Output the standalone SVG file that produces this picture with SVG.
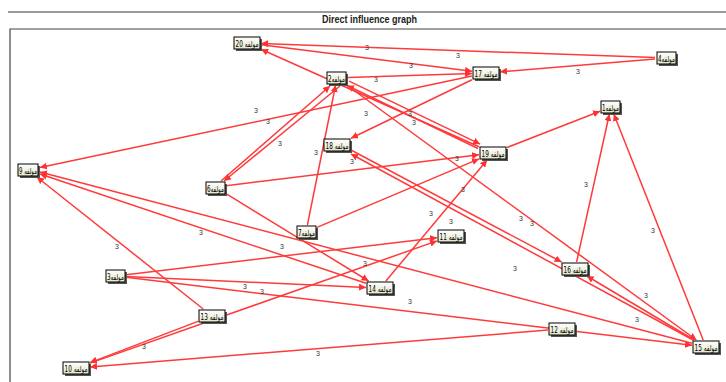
<svg xmlns="http://www.w3.org/2000/svg" width="726" height="382" viewBox="0 0 726 382">
<defs>
<marker id="ah" viewBox="0 0 10 10" refX="10" refY="5" markerWidth="7" markerHeight="7" markerUnits="userSpaceOnUse" orient="auto">
<path d="M0,0 L10,5 L0,10 z" fill="#ff3030"/>
</marker>
<linearGradient id="nf" x1="0" y1="0" x2="0" y2="1">
<stop offset="0" stop-color="#ffffff"/>
<stop offset="1" stop-color="#e4e6c8"/>
</linearGradient>
</defs>
<style>
.e{stroke:#ff3a3a;stroke-width:1.5;fill:none;marker-end:url(#ah)}
.l{font-family:"Liberation Sans","DejaVu Sans",sans-serif;font-size:7px;fill:#333;text-anchor:middle}
.nb{fill:url(#nf);stroke:#000;stroke-width:1}
.ns{fill:#555}
.nt{font-family:"DejaVu Sans","Liberation Sans",sans-serif;font-size:8.5px;fill:#000;text-anchor:middle;direction:rtl}
</style>
<rect x="0" y="0" width="726" height="382" fill="#ffffff"/>
<line x1="8" y1="12" x2="726" y2="12" stroke="#9a9a9a" stroke-width="2"/>
<text x="322" y="23" font-family="Liberation Sans, Arial, sans-serif" font-size="10" font-weight="bold" textLength="95" lengthAdjust="spacingAndGlyphs" fill="#222">Direct influence graph</text>
<path d="M10,382 L10,29 L726,29" fill="none" stroke="#444" stroke-width="1.2"/>

<g id="connectors">
<line class="e" x1="655" y1="57.6" x2="261" y2="43.5"/>
<line class="e" x1="655" y1="58.9" x2="500" y2="71.8"/>
<line class="e" x1="261" y1="44.8" x2="472" y2="71.2"/>
<line class="e" x1="479" y1="146.7" x2="261" y2="49.3"/>
<line class="e" x1="348" y1="77.6" x2="472" y2="73.5"/>
<line class="e" x1="472" y1="76" x2="40" y2="167.5"/>
<line class="e" x1="472" y1="79.8" x2="351" y2="138.2"/>
<line class="e" x1="349.1" y1="81.1" x2="480.1" y2="144.1"/>
<line class="e" x1="478" y1="148.5" x2="347" y2="85.5"/>
<line class="e" x1="340" y1="86" x2="224" y2="181"/>
<line class="e" x1="221" y1="181" x2="330" y2="86"/>
<line class="e" x1="307.4" y1="225" x2="335.6" y2="85"/>
<line class="e" x1="226" y1="185.7" x2="479" y2="154.7"/>
<line class="e" x1="317" y1="227.4" x2="479" y2="158.9"/>
<line class="e" x1="507" y1="147.5" x2="600" y2="111.3"/>
<line class="e" x1="385.9" y1="281" x2="487.1" y2="160"/>
<line class="e" x1="576.6" y1="262" x2="609.4" y2="114"/>
<line class="e" x1="703.2" y1="340" x2="613.8" y2="114"/>
<line class="e" x1="351" y1="150" x2="561.6" y2="262"/>
<line class="e" x1="693.2" y1="340" x2="351" y2="154"/>
<line class="e" x1="346.6" y1="85" x2="696.4" y2="340"/>
<line class="e" x1="203.2" y1="309" x2="36.8" y2="177"/>
<line class="e" x1="366" y1="283.3" x2="40" y2="174"/>
<line class="e" x1="692" y1="343.3" x2="40" y2="172"/>
<line class="e" x1="226" y1="193.7" x2="368.6" y2="281"/>
<line class="e" x1="126" y1="274.7" x2="437" y2="237.7"/>
<line class="e" x1="90" y1="363.1" x2="437" y2="240.9"/>
<line class="e" x1="126" y1="276.5" x2="366" y2="287.4"/>
<line class="e" x1="126" y1="277.3" x2="692" y2="345.3"/>
<line class="e" x1="198" y1="321.4" x2="90" y2="362.6"/>
<line class="e" x1="548" y1="330.1" x2="90" y2="366.9"/>
<line class="e" x1="694.2" y1="340" x2="586.8" y2="276"/>
<g>
<text class="l" x="367" y="50">3</text>
<text class="l" x="458" y="58">3</text>
<text class="l" x="411" y="68">3</text>
<text class="l" x="578" y="74">3</text>
<text class="l" x="376" y="82">3</text>
<text class="l" x="256" y="113">3</text>
<text class="l" x="268" y="124">3</text>
<text class="l" x="366" y="116">3</text>
<text class="l" x="410" y="116">3</text>
<text class="l" x="414" y="125">3</text>
<text class="l" x="280" y="146">3</text>
<text class="l" x="316" y="155">3</text>
<text class="l" x="352" y="164">3</text>
<text class="l" x="457" y="161">3</text>
<text class="l" x="463" y="192">3</text>
<text class="l" x="586" y="187">3</text>
<text class="l" x="431" y="216">3</text>
<text class="l" x="451" y="224">3</text>
<text class="l" x="521" y="221">3</text>
<text class="l" x="532" y="226">3</text>
<text class="l" x="653" y="233">3</text>
<text class="l" x="201" y="235">3</text>
<text class="l" x="117" y="249">3</text>
<text class="l" x="282" y="249">3</text>
<text class="l" x="515" y="271">3</text>
<text class="l" x="365" y="266">3</text>
<text class="l" x="245" y="289">3</text>
<text class="l" x="262" y="294">3</text>
<text class="l" x="646" y="298">3</text>
<text class="l" x="410" y="304">3</text>
<text class="l" x="637" y="322">3</text>
<text class="l" x="144" y="349">3</text>
<text class="l" x="318" y="356">3</text>
</g>
</g>

<g id="n20"><rect class="ns" x="236" y="39" width="26" height="12"/><rect class="nb" x="234" y="37" width="26" height="12"/><text class="nt" x="247" y="46.5" textLength="23" lengthAdjust="spacingAndGlyphs">مولفه 20</text></g>
<g id="n4"><rect class="ns" x="659" y="54" width="19" height="12"/><rect class="nb" x="657" y="52" width="19" height="12"/><text class="nt" x="666.5" y="61.5" textLength="17" lengthAdjust="spacingAndGlyphs">مولفه4</text></g>
<g id="n17"><rect class="ns" x="475" y="69" width="26" height="12"/><rect class="nb" x="473" y="67" width="26" height="12"/><text class="nt" x="486" y="76.5" textLength="23" lengthAdjust="spacingAndGlyphs">مولفه 17</text></g>
<g id="n2"><rect class="ns" x="329" y="74" width="19" height="12"/><rect class="nb" x="327" y="72" width="19" height="12"/><text class="nt" x="336.5" y="81.5" textLength="17" lengthAdjust="spacingAndGlyphs">مولفه2</text></g>
<g id="n1"><rect class="ns" x="603" y="103" width="19" height="12"/><rect class="nb" x="601" y="101" width="19" height="12"/><text class="nt" x="610.5" y="110.5" textLength="17" lengthAdjust="spacingAndGlyphs">مولفه1</text></g>
<g id="n18"><rect class="ns" x="326" y="141" width="26" height="12"/><rect class="nb" x="324" y="139" width="26" height="12"/><text class="nt" x="337" y="148.5" textLength="23" lengthAdjust="spacingAndGlyphs">مولفه 18</text></g>
<g id="n19"><rect class="ns" x="482" y="149" width="26" height="12"/><rect class="nb" x="480" y="147" width="26" height="12"/><text class="nt" x="493" y="156.5" textLength="23" lengthAdjust="spacingAndGlyphs">مولفه 19</text></g>
<g id="n9"><rect class="ns" x="20" y="166" width="20" height="12"/><rect class="nb" x="18" y="164" width="20" height="12"/><text class="nt" x="28" y="173.5" textLength="18" lengthAdjust="spacingAndGlyphs">مولفه 9</text></g>
<g id="n6"><rect class="ns" x="208" y="184" width="19" height="12"/><rect class="nb" x="206" y="182" width="19" height="12"/><text class="nt" x="215.5" y="191.5" textLength="17" lengthAdjust="spacingAndGlyphs">مولفه6</text></g>
<g id="n7"><rect class="ns" x="299" y="228" width="19" height="12"/><rect class="nb" x="297" y="226" width="19" height="12"/><text class="nt" x="306.5" y="235.5" textLength="17" lengthAdjust="spacingAndGlyphs">مولفه7</text></g>
<g id="n11"><rect class="ns" x="440" y="232" width="26" height="12"/><rect class="nb" x="438" y="230" width="26" height="12"/><text class="nt" x="451" y="239.5" textLength="23" lengthAdjust="spacingAndGlyphs">مولفه 11</text></g>
<g id="n16"><rect class="ns" x="564" y="265" width="26" height="12"/><rect class="nb" x="562" y="263" width="26" height="12"/><text class="nt" x="575" y="272.5" textLength="23" lengthAdjust="spacingAndGlyphs">مولفه 16</text></g>
<g id="n3"><rect class="ns" x="108" y="272" width="19" height="12"/><rect class="nb" x="106" y="270" width="19" height="12"/><text class="nt" x="115.5" y="279.5" textLength="17" lengthAdjust="spacingAndGlyphs">مولفه3</text></g>
<g id="n14"><rect class="ns" x="369" y="284" width="26" height="12"/><rect class="nb" x="367" y="282" width="26" height="12"/><text class="nt" x="380" y="291.5" textLength="23" lengthAdjust="spacingAndGlyphs">مولفه 14</text></g>
<g id="n13"><rect class="ns" x="201" y="312" width="26" height="12"/><rect class="nb" x="199" y="310" width="26" height="12"/><text class="nt" x="212" y="319.5" textLength="23" lengthAdjust="spacingAndGlyphs">مولفه 13</text></g>
<g id="n12"><rect class="ns" x="551" y="325" width="26" height="12"/><rect class="nb" x="549" y="323" width="26" height="12"/><text class="nt" x="562" y="332.5" textLength="23" lengthAdjust="spacingAndGlyphs">مولفه 12</text></g>
<g id="n15"><rect class="ns" x="695" y="343" width="26" height="12"/><rect class="nb" x="693" y="341" width="26" height="12"/><text class="nt" x="706" y="350.5" textLength="23" lengthAdjust="spacingAndGlyphs">مولفه 15</text></g>
<g id="n10"><rect class="ns" x="65" y="364" width="26" height="12"/><rect class="nb" x="63" y="362" width="26" height="12"/><text class="nt" x="76" y="371.5" textLength="23" lengthAdjust="spacingAndGlyphs">مولفه 10</text></g>
</svg>
